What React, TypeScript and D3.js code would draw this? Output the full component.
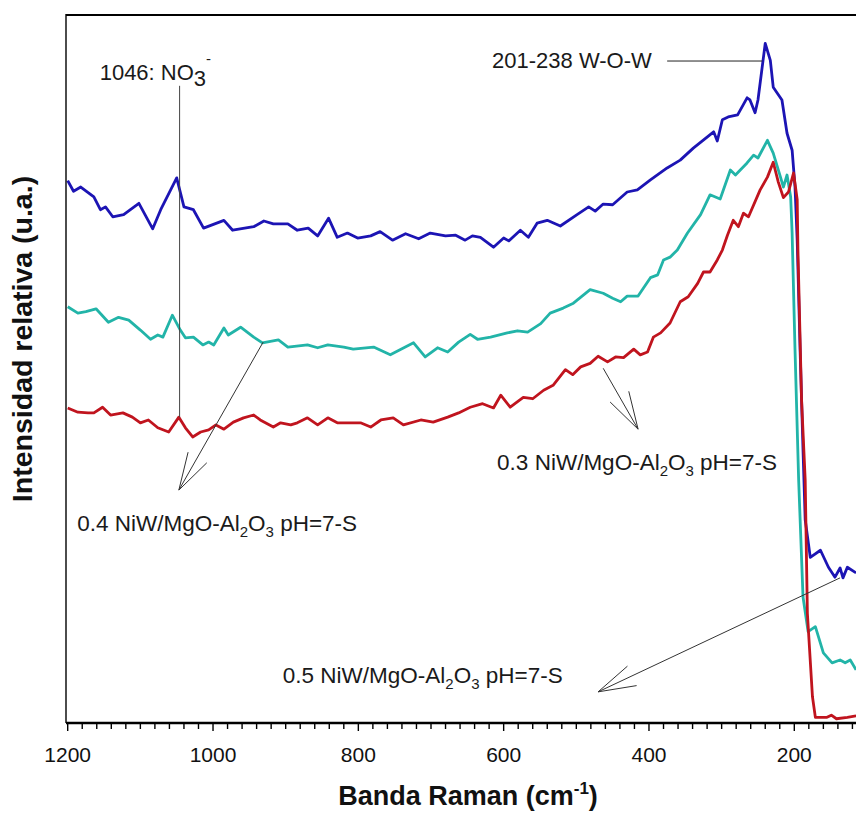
import React from "react";
import * as d3 from "d3";

// Raman spectra of sulfided NiW/MgO-Al2O3 catalysts: [Raman shift (cm-1), relative intensity (a.u.)]
const spectrum05: [number, number][] = [
  [1200, 76.6], [1192, 75.1], [1182, 75.7], [1164, 74.3], [1155, 72.5], [1148, 72.9], [1138, 71.5],
  [1123, 71.8], [1102, 73.4], [1083, 69.8], [1072, 72.5], [1050, 77.0], [1040, 72.9], [1027, 72.5],
  [1013, 69.9], [985, 71.0], [973, 69.6], [944, 70.1], [930, 70.9], [917, 70.5], [897, 70.5],
  [884, 69.6], [869, 69.9], [856, 68.8], [841, 71.3], [829, 68.6], [815, 69.2], [801, 68.5],
  [783, 68.8], [770, 69.4], [753, 68.2], [735, 69.1], [717, 68.4], [701, 69.2], [680, 68.8],
  [666, 68.9], [653, 68.2], [643, 68.8], [632, 68.6], [614, 67.2], [600, 68.5], [593, 68.1],
  [577, 69.6], [566, 68.6], [554, 70.6], [540, 71.0], [522, 70.2], [499, 71.8], [483, 72.9],
  [474, 72.3], [463, 73.3], [450, 73.2], [430, 75.0], [416, 75.3], [398, 76.7], [375, 78.4],
  [357, 79.5], [339, 81.2], [311, 83.5], [306, 82.2], [299, 85.2], [291, 85.6], [278, 85.9],
  [265, 88.3], [261, 88.0], [254, 86.2], [250, 88.0], [240, 96.0], [233, 93.6], [229, 89.8],
  [217, 88.0], [210, 83.3], [203, 80.9], [199, 75.7], [196, 68.2], [192, 52.7], [188, 38.6],
  [185, 28.7], [178, 23.4], [164, 24.4], [153, 22.0], [144, 20.6], [137, 21.9], [133, 20.5],
  [127, 22.0], [115, 21.2],
];

const spectrum04: [number, number][] = [
  [1200, 58.8], [1186, 57.9], [1175, 58.1], [1161, 58.5], [1144, 56.6], [1130, 57.3], [1116, 56.9],
  [1100, 55.5], [1086, 54.2], [1076, 54.8], [1069, 54.5], [1056, 57.6], [1045, 55.5], [1038, 54.4],
  [1027, 54.5], [1014, 53.4], [1006, 53.8], [999, 53.4], [985, 55.8], [979, 54.8], [962, 55.9],
  [944, 54.5], [932, 53.7], [910, 54.1], [897, 53.1], [870, 53.4], [856, 53.0], [842, 53.4],
  [820, 53.1], [807, 52.8], [779, 53.1], [756, 52.0], [724, 53.7], [708, 51.7], [691, 53.0],
  [677, 52.4], [662, 53.8], [646, 54.9], [636, 54.2], [618, 54.5], [595, 55.1], [581, 55.4],
  [567, 55.2], [549, 56.4], [536, 57.9], [518, 58.6], [504, 59.3], [481, 61.2], [463, 60.7],
  [450, 60.0], [439, 59.5], [430, 60.3], [415, 60.3], [398, 62.9], [388, 63.3], [380, 65.4],
  [371, 65.8], [361, 66.8], [347, 69.2], [329, 71.8], [316, 74.6], [302, 74.0], [288, 78.1],
  [281, 77.4], [265, 79.1], [256, 80.2], [250, 79.8], [237, 82.3], [229, 80.5], [219, 77.1],
  [215, 75.7], [210, 77.4], [205, 74.3], [203, 69.2], [199, 52.7], [194, 34.3], [188, 17.8],
  [181, 12.9], [171, 13.6], [160, 9.9], [148, 8.5], [137, 8.9], [130, 8.5], [123, 8.9], [115, 7.5],
];

const spectrum03: [number, number][] = [
  [1200, 44.5], [1186, 43.9], [1172, 43.8], [1164, 43.8], [1152, 44.6], [1141, 43.5], [1124, 43.8],
  [1111, 43.2], [1100, 42.4], [1089, 42.8], [1076, 41.7], [1061, 41.1], [1047, 43.2], [1038, 41.7],
  [1028, 40.4], [1017, 41.1], [1006, 41.4], [996, 42.1], [985, 41.5], [972, 42.5], [958, 43.1],
  [944, 43.5], [935, 42.8], [917, 41.8], [907, 42.4], [893, 42.1], [884, 42.4], [870, 43.1],
  [856, 42.1], [842, 43.1], [829, 42.4], [811, 42.4], [797, 42.4], [783, 41.8], [769, 42.8],
  [752, 43.1], [738, 42.1], [714, 42.8], [697, 42.5], [677, 43.2], [662, 43.8], [646, 44.6],
  [629, 45.1], [614, 44.5], [604, 46.3], [591, 44.6], [573, 46.0], [560, 45.8], [545, 47.0],
  [532, 47.7], [515, 49.9], [505, 49.2], [494, 50.3], [481, 50.8], [470, 51.8], [457, 51.0],
  [446, 51.7], [435, 51.6], [421, 52.8], [412, 52.0], [402, 52.4], [394, 54.5], [384, 55.1],
  [371, 56.5], [357, 59.5], [346, 60.2], [333, 62.1], [325, 63.7], [316, 63.7], [306, 65.4],
  [299, 66.8], [292, 68.9], [284, 71.0], [277, 70.1], [270, 72.0], [263, 71.5], [247, 75.3],
  [237, 77.1], [229, 79.2], [222, 76.4], [215, 74.2], [208, 75.0], [201, 77.7], [196, 73.9],
  [195, 66.8], [190, 45.6], [185, 34.3], [182, 15.5], [175, 3.7], [171, 0.8], [155, 0.8],
  [149, 1.1], [142, 0.6], [127, 0.8], [115, 1.0],
];

const seriesNames = ["0.5", "0.4", "0.3"];
const seriesColors = ["#1c14b4", "#22b4a8", "#c0141e"];
const majorTicks = [1200, 1000, 800, 600, 400, 200];
const minorTicks = d3.range(1200, 110, -20);

const FONT = "'Liberation Sans', Arial, sans-serif";

function Arrow({ from, to }: { from: [number, number]; to: [number, number] }) {
  const ang = Math.atan2(from[1] - to[1], from[0] - to[0]);
  const len = 39;
  const spread = (16 * Math.PI) / 180;
  const b1: [number, number] = [to[0] + len * Math.cos(ang - spread), to[1] + len * Math.sin(ang - spread)];
  const b2: [number, number] = [to[0] + len * Math.cos(ang + spread), to[1] + len * Math.sin(ang + spread)];
  const d = `M${from[0]},${from[1]}L${to[0]},${to[1]}M${b1[0]},${b1[1]}L${to[0]},${to[1]}L${b2[0]},${b2[1]}`;
  return <path d={d} fill="none" stroke="#333" strokeWidth={1} />;
}

function SampleLabel({ x, y, loading }: { x: number; y: number; loading: string }) {
  return (
    <text x={x} y={y} fontFamily={FONT} fontSize={22.5} fill="#1a1a1a">
      {loading} NiW/MgO-Al
      <tspan fontSize={15} dy={6}>2</tspan>
      <tspan dy={-6}>O</tspan>
      <tspan fontSize={15} dy={6}>3</tspan>
      <tspan dy={-6}> pH=7-S</tspan>
    </text>
  );
}

export default function App() {
  const width = 856;
  const height = 820;
  const x = d3.scaleLinear().domain([1200, 200]).range([67.7, 794.3]);
  const y = d3.scaleLinear().domain([0, 100]).range([723, 15]);
  const line = d3
    .line<[number, number]>()
    .x((d) => x(d[0]))
    .y((d) => y(d[1]));
  const spectra = [spectrum05, spectrum04, spectrum03];
  const left = 66;
  const top = y(100);
  const bottom = y(0);

  return (
    <svg
      width={width}
      height={height}
      style={{ position: "absolute", left: 0, top: 0, background: "#fff" }}
    >
      <defs>
        <clipPath id="plot-area">
          <rect x={left} y={top} width={width - left} height={bottom - top} />
        </clipPath>
      </defs>
      <rect width={width} height={height} fill="#fff" />

      {/* spectra */}
      <g clipPath="url(#plot-area)">
        {spectra.map((s, i) => (
          <path
            key={seriesNames[i]}
            d={line(s) ?? ""}
            fill="none"
            stroke={seriesColors[i]}
            strokeWidth={2.8}
            strokeLinejoin="round"
          />
        ))}
      </g>

      {/* frame */}
      <line x1={left} x2={width} y1={top} y2={top} stroke="#000" strokeWidth={2} />
      <line x1={left} x2={left} y1={top - 1} y2={bottom} stroke="#000" strokeWidth={1.4} />
      <line x1={left} x2={width} y1={bottom} y2={bottom} stroke="#000" strokeWidth={2.6} />

      {/* x axis ticks */}
      {minorTicks.map((t) => {
        const major = majorTicks.includes(t);
        return (
          <line
            key={t}
            x1={x(t)}
            x2={x(t)}
            y1={bottom}
            y2={bottom + (major ? 8 : 6)}
            stroke="#000"
            strokeWidth={1.4}
          />
        );
      })}
      {majorTicks.map((t) => (
        <text
          key={t}
          x={x(t)}
          y={762}
          textAnchor="middle"
          fontFamily={FONT}
          fontSize={21}
          fill="#111"
        >
          {t}
        </text>
      ))}

      {/* axis titles */}
      <text x={468} y={805} textAnchor="middle" fontFamily={FONT} fontSize={27} fontWeight="bold" fill="#111">
        Banda Raman (cm
        <tspan fontSize={17} dy={-11}>-1</tspan>
        <tspan dy={11}>)</tspan>
      </text>
      <text
        transform="translate(32,339) rotate(-90)"
        textAnchor="middle"
        fontFamily={FONT}
        fontSize={28.5}
        fontWeight="bold"
        fill="#111"
      >
        Intensidad relativa (u.a.)
      </text>

      {/* nitrate band */}
      <line x1={x(1046)} x2={x(1046)} y1={y(90)} y2={y(43.2)} stroke="#444" strokeWidth={1} />
      <text x={x(1156)} y={y(90.8)} fontFamily={FONT} fontSize={22} fill="#1a1a1a">
        1046: NO
        <tspan dy={6}>3</tspan>
        <tspan fontSize={15} dy={-22}>-</tspan>
      </text>

      {/* W-O-W band */}
      <line x1={x(375)} x2={x(244)} y1={y(93.5)} y2={y(93.5)} stroke="#222" strokeWidth={1} />
      <text x={x(616)} y={y(92.5)} fontFamily={FONT} fontSize={22} fill="#1a1a1a">
        201-238 W-O-W
      </text>

      {/* sample labels */}
      <Arrow from={[x(931), y(53.8)]} to={[x(1047), y(32.9)]} />
      <SampleLabel x={x(1187)} y={y(27.1)} loading="0.4" />

      <Arrow from={[x(463), y(50.1)]} to={[x(415), y(41.5)]} />
      <SampleLabel x={x(609)} y={y(35.7)} loading="0.3" />

      <Arrow from={[x(137), y(20.5)]} to={[x(470), y(4.4)]} />
      <SampleLabel x={x(904)} y={y(5.6)} loading="0.5" />
    </svg>
  );
}
